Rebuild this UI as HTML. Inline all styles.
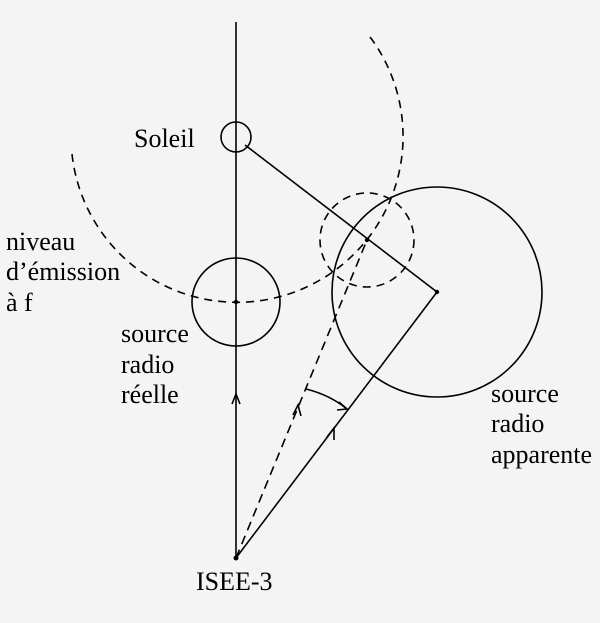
<!DOCTYPE html>
<html><head><style>body{margin:0;background:#f4f4f4}svg{display:block}text{font-family:"Liberation Serif",serif;font-size:26px;fill:#000}</style></head>
<body><svg width="600" height="623" viewBox="0 0 600 623">
<rect width="600" height="623" fill="#f4f4f4"/>
<g stroke="#000" stroke-width="1.6" fill="none">
<line x1="236" y1="22" x2="236" y2="558"/>
<circle cx="236" cy="137" r="15"/>
<path d="M72,154 A166,166 0 1 0 367,33" stroke-dasharray="8,6"/>
<circle cx="236" cy="302" r="44"/>
<line x1="245" y1="145" x2="437" y2="292"/>
<circle cx="437" cy="292" r="105"/>
<circle cx="367" cy="240" r="47" stroke-dasharray="8,6"/>
<line x1="236" y1="558" x2="437" y2="292"/>
<line x1="236" y1="558" x2="367" y2="240" stroke-dasharray="9,6"/>
<path d="M306,389 Q330,395 347,409"/>
<path d="M339,402 L347,409 L337,410"/>
<path d="M232,404 L236,394 L240,404"/>
<path d="M293,415 L298,405 L301,416"/>
<path d="M327,437 L334,428 L334,440"/>
</g>
<g fill="#000"><circle cx="236" cy="302" r="2.2"/><circle cx="437" cy="292" r="2.2"/><circle cx="367" cy="240" r="2.2"/><circle cx="236" cy="558" r="2.5"/></g>
<text x="134" y="147">Soleil</text>
<text x="6" y="250">niveau</text>
<text x="6" y="280">d’émission</text>
<text x="6" y="311">à f</text>
<text x="121" y="342">source</text>
<text x="121" y="373">radio</text>
<text x="121" y="403">réelle</text>
<text x="491" y="402">source</text>
<text x="491" y="432">radio</text>
<text x="491" y="463">apparente</text>
<text x="196" y="590">ISEE-3</text>
</svg></body></html>
